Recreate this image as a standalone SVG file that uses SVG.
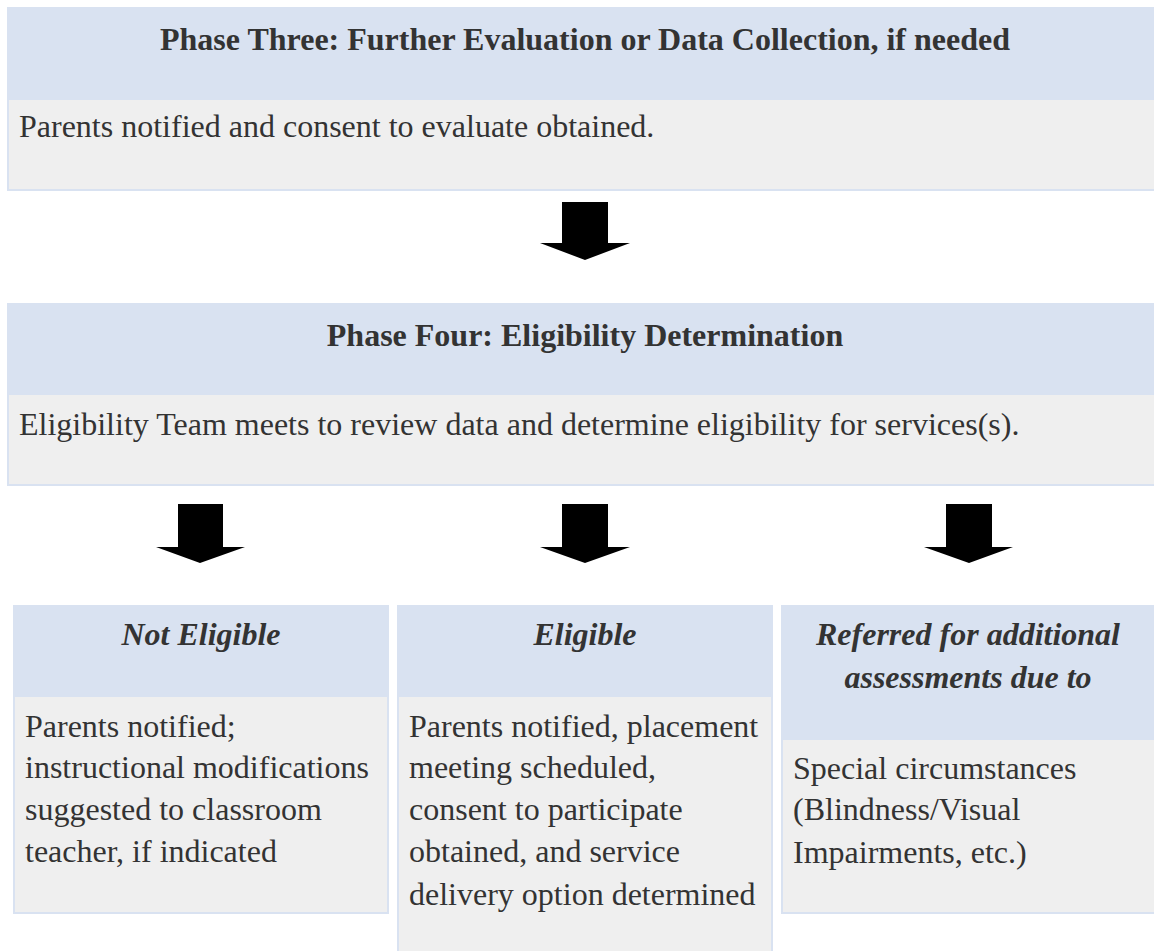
<svg xmlns="http://www.w3.org/2000/svg" width="1154" height="951" viewBox="0 0 1154 951">
<style>
.body{fill:#efefef;stroke:#d9e2f1;stroke-width:2}
.head{fill:#d9e2f1}
text{font-family:'Liberation Serif','Times New Roman',Tinos,'DejaVu Serif',serif;font-size:32px;fill:#333333}
.b{font-weight:bold;text-anchor:middle}
.bi{font-weight:bold;font-style:italic;text-anchor:middle}
.arrow{fill:#000000}
</style>
<rect width="1154" height="951" fill="#ffffff"/>
<g id="phase3">
<rect class="body" x="8" y="8" width="1160" height="182"/>
<rect class="head" x="7" y="7" width="1160" height="93"/>
<text class="b" x="585" y="50">Phase Three: Further Evaluation or Data Collection, if needed</text>
<text x="19" y="137">Parents notified and consent to evaluate obtained.</text>
</g>
<g id="phase4">
<rect class="body" x="8" y="304" width="1160" height="181"/>
<rect class="head" x="7" y="303" width="1160" height="92"/>
<text class="b" x="585" y="346">Phase Four: Eligibility Determination</text>
<text x="19" y="435">Eligibility Team meets to review data and determine eligibility for services(s).</text>
</g>
<g id="not-eligible">
<rect class="body" x="14" y="606" width="374" height="307"/>
<rect class="head" x="13" y="605" width="376" height="92"/>
<text class="bi" x="201" y="645">Not Eligible</text>
<text x="25" y="737">Parents notified;</text>
<text x="25" y="778">instructional modifications</text>
<text x="25" y="820">suggested to classroom</text>
<text x="25" y="862">teacher, if indicated</text>
</g>
<g id="eligible">
<rect class="body" x="398" y="606" width="374" height="360"/>
<rect class="head" x="397" y="605" width="376" height="92"/>
<text class="bi" x="585" y="645">Eligible</text>
<text x="409" y="737">Parents notified, placement</text>
<text x="409" y="778">meeting scheduled,</text>
<text x="409" y="820">consent to participate</text>
<text x="409" y="862">obtained, and service</text>
<text x="409" y="905">delivery option determined</text>
</g>
<g id="referred">
<rect class="body" x="782" y="606" width="400" height="307"/>
<rect class="head" x="781" y="605" width="400" height="135"/>
<text class="bi" x="968" y="645">Referred for additional</text>
<text class="bi" x="968" y="688">assessments due to</text>
<text x="793" y="779">Special circumstances</text>
<text x="793" y="820">(Blindness/Visual</text>
<text x="793" y="863">Impairments, etc.)</text>
</g>
<g id="connectors">
<polygon class="arrow" points="562,202 608,202 608,243 630,243 585,260 540,243 562,243"/>
<polygon class="arrow" points="178,504 223,504 223,547 245,547 200,563 156,547 178,547"/>
<polygon class="arrow" points="562,504 608,504 608,547 630,547 585,563 540,547 562,547"/>
<polygon class="arrow" points="946,504 992,504 992,547 1013,547 969,563 924,547 946,547"/>
</g>
</svg>
